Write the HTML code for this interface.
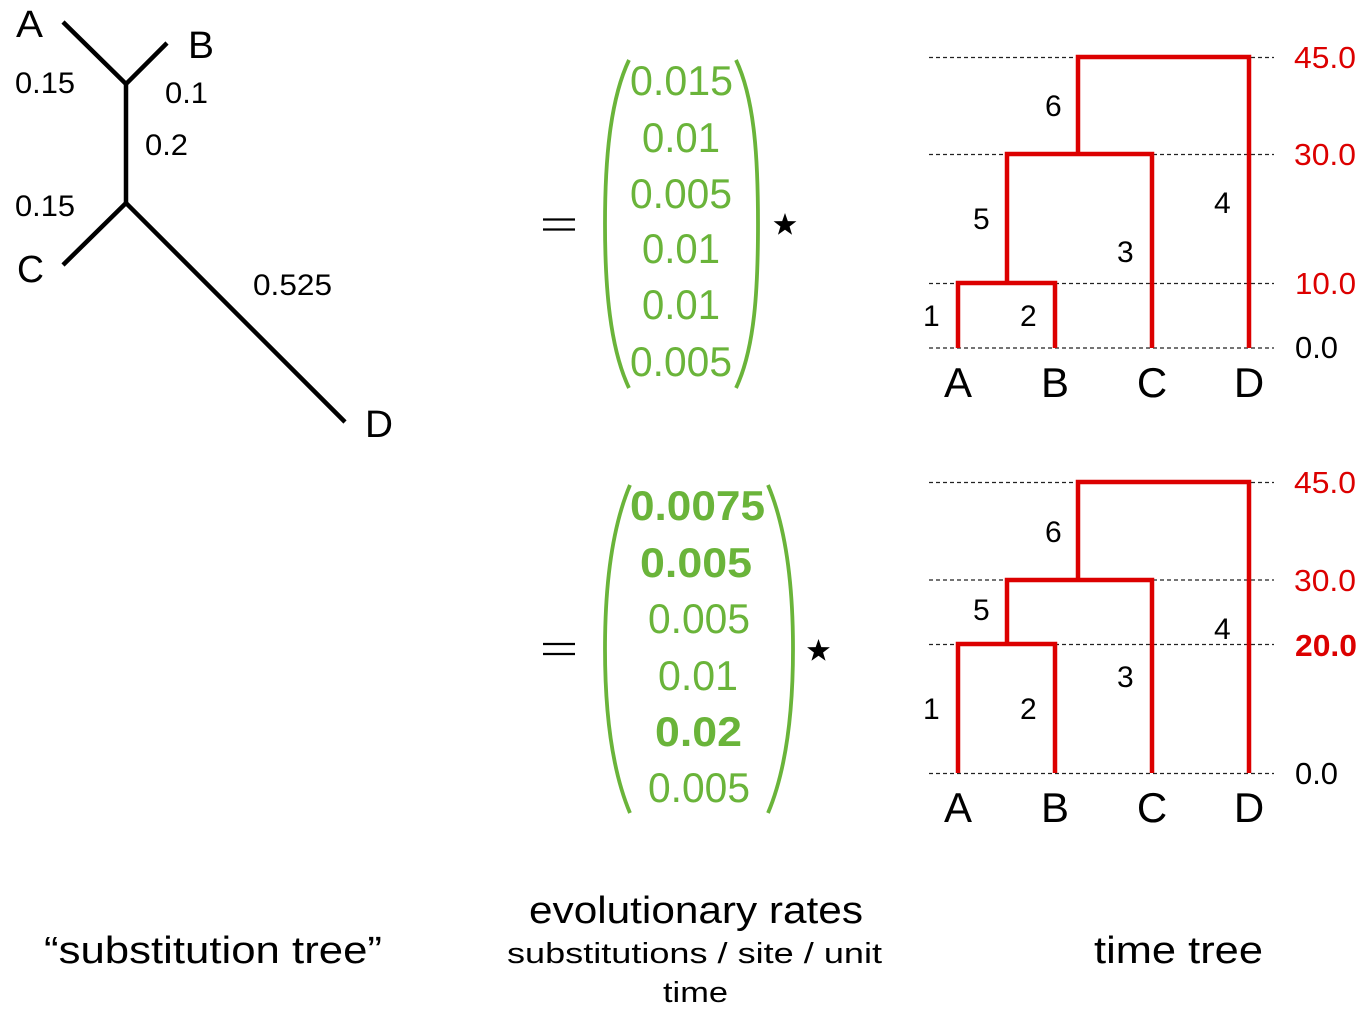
<!DOCTYPE html>
<html>
<head>
<meta charset="utf-8">
<style>
  html,body{margin:0;padding:0;background:#fff;}
  svg{display:block;}
  text{font-family:"Liberation Sans","DejaVu Sans",sans-serif;}
</style>
</head>
<body>
<svg width="1360" height="1012" viewBox="0 0 1360 1012" xmlns="http://www.w3.org/2000/svg">
  <defs>
    <polygon id="star" points="0,-12 2.82,-3.88 11.41,-3.71 4.57,1.48 7.05,9.71 0,4.8 -7.05,9.71 -4.57,1.48 -11.41,-3.71 -2.82,-3.88"/>
  </defs>
  <rect width="1360" height="1012" fill="#fff"/>

  <!-- ===== Substitution tree ===== -->
  <g stroke="#000" stroke-width="4.5" fill="none" stroke-linecap="butt" stroke-linejoin="miter">
    <path d="M63,22 L126,84 L167,43"/>
    <path d="M126,84 L126,203"/>
    <path d="M63,265 L126,203 L345,422"/>
  </g>
  <g fill="#000">
    <text x="16" y="37" font-size="38" textLength="27" lengthAdjust="spacingAndGlyphs">A</text>
    <text x="188" y="58" font-size="38" textLength="26" lengthAdjust="spacingAndGlyphs">B</text>
    <text x="17" y="282" font-size="38" textLength="27" lengthAdjust="spacingAndGlyphs">C</text>
    <text x="365" y="437" font-size="38" textLength="28" lengthAdjust="spacingAndGlyphs">D</text>
    <text x="15" y="93" font-size="30" textLength="60" lengthAdjust="spacingAndGlyphs">0.15</text>
    <text x="165" y="103" font-size="30" textLength="43" lengthAdjust="spacingAndGlyphs">0.1</text>
    <text x="145" y="155" font-size="30" textLength="43" lengthAdjust="spacingAndGlyphs">0.2</text>
    <text x="15" y="216" font-size="30" textLength="60" lengthAdjust="spacingAndGlyphs">0.15</text>
    <text x="253" y="295" font-size="30" textLength="79" lengthAdjust="spacingAndGlyphs">0.525</text>
  </g>

  <!-- ===== Top rates vector ===== -->
  <g stroke="#000" stroke-width="2.2">
    <line x1="543" y1="219.5" x2="575" y2="219.5"/>
    <line x1="543" y1="229.5" x2="575" y2="229.5"/>
  </g>
  <g stroke="#6ab43a" stroke-width="3.8" fill="none">
    <path d="M629,60 C610,100 605,160 605,224 C605,288 610,348 629,388"/>
    <path d="M736,60 C755,100 758,160 758,224 C758,288 755,348 736,388"/>
  </g>
  <g fill="#6ab43a" font-size="42">
    <text x="630" y="95" textLength="103" lengthAdjust="spacingAndGlyphs">0.015</text>
    <text x="642" y="152" textLength="78" lengthAdjust="spacingAndGlyphs">0.01</text>
    <text x="630" y="208" textLength="102" lengthAdjust="spacingAndGlyphs">0.005</text>
    <text x="642" y="263" textLength="78" lengthAdjust="spacingAndGlyphs">0.01</text>
    <text x="642" y="319" textLength="78" lengthAdjust="spacingAndGlyphs">0.01</text>
    <text x="630" y="376" textLength="102" lengthAdjust="spacingAndGlyphs">0.005</text>
  </g>
  <use href="#star" fill="#000" transform="translate(785,225)"/>

  <!-- ===== Bottom rates vector ===== -->
  <g stroke="#000" stroke-width="2.2">
    <line x1="543" y1="644" x2="575" y2="644"/>
    <line x1="543" y1="654" x2="575" y2="654"/>
  </g>
  <g stroke="#6ab43a" stroke-width="3.8" fill="none">
    <path d="M630,485 C611,530 605,590 605,649 C605,708 611,768 630,813"/>
    <path d="M768,485 C787,530 793,590 793,649 C793,708 787,768 768,813"/>
  </g>
  <g fill="#6ab43a" font-size="42">
    <text x="630" y="520" font-weight="bold" textLength="135" lengthAdjust="spacingAndGlyphs">0.0075</text>
    <text x="640" y="577" font-weight="bold" textLength="112" lengthAdjust="spacingAndGlyphs">0.005</text>
    <text x="648" y="633" textLength="102" lengthAdjust="spacingAndGlyphs">0.005</text>
    <text x="658" y="690" textLength="80" lengthAdjust="spacingAndGlyphs">0.01</text>
    <text x="655" y="746" font-weight="bold" textLength="87" lengthAdjust="spacingAndGlyphs">0.02</text>
    <text x="648" y="802" textLength="102" lengthAdjust="spacingAndGlyphs">0.005</text>
  </g>
  <use href="#star" fill="#000" transform="translate(818.5,651)"/>

  <!-- ===== Top time tree ===== -->
  <g stroke="#222" stroke-width="1.2" stroke-dasharray="4,3">
    <line x1="929" y1="57.5" x2="1274" y2="57.5"/>
    <line x1="929" y1="154.5" x2="1274" y2="154.5"/>
    <line x1="929" y1="283.5" x2="1274" y2="283.5"/>
    <line x1="929" y1="348" x2="1274" y2="348"/>
  </g>
  <g stroke="#dc0000" stroke-width="4.5" fill="none" stroke-linejoin="miter">
    <path d="M958,348 V283 H1055 V348"/>
    <path d="M1007,283 V154 H1152 V348"/>
    <path d="M1078,154 V57 H1249 V348"/>
  </g>
  <g fill="#dc0000" font-size="31">
    <text x="1294" y="68" textLength="62" lengthAdjust="spacingAndGlyphs">45.0</text>
    <text x="1294" y="165" textLength="62" lengthAdjust="spacingAndGlyphs">30.0</text>
    <text x="1295" y="294" textLength="61" lengthAdjust="spacingAndGlyphs">10.0</text>
  </g>
  <text x="1295" y="358" font-size="31" fill="#000" textLength="43" lengthAdjust="spacingAndGlyphs">0.0</text>
  <g fill="#000" font-size="30">
    <text x="1045" y="116">6</text>
    <text x="973" y="229">5</text>
    <text x="1117" y="262">3</text>
    <text x="1214" y="213">4</text>
    <text x="923" y="326">1</text>
    <text x="1020" y="326">2</text>
  </g>
  <g fill="#000" font-size="42" text-anchor="middle">
    <text x="958" y="397">A</text>
    <text x="1055" y="397">B</text>
    <text x="1152" y="397">C</text>
    <text x="1249" y="397">D</text>
  </g>

  <!-- ===== Bottom time tree ===== -->
  <g stroke="#222" stroke-width="1.2" stroke-dasharray="4,3">
    <line x1="929" y1="482.5" x2="1274" y2="482.5"/>
    <line x1="929" y1="580" x2="1274" y2="580"/>
    <line x1="929" y1="644.5" x2="1274" y2="644.5"/>
    <line x1="929" y1="773.5" x2="1274" y2="773.5"/>
  </g>
  <g stroke="#dc0000" stroke-width="4.5" fill="none" stroke-linejoin="miter">
    <path d="M958,773 V644 H1055 V773"/>
    <path d="M1007,644 V580 H1152 V773"/>
    <path d="M1078,580 V482 H1249 V773"/>
  </g>
  <g fill="#dc0000" font-size="31">
    <text x="1294" y="493" textLength="62" lengthAdjust="spacingAndGlyphs">45.0</text>
    <text x="1294" y="591" textLength="62" lengthAdjust="spacingAndGlyphs">30.0</text>
    <text x="1295" y="656" font-weight="bold" textLength="62" lengthAdjust="spacingAndGlyphs">20.0</text>
  </g>
  <text x="1295" y="784" font-size="31" fill="#000" textLength="43" lengthAdjust="spacingAndGlyphs">0.0</text>
  <g fill="#000" font-size="30">
    <text x="1045" y="542">6</text>
    <text x="973" y="620">5</text>
    <text x="1117" y="687">3</text>
    <text x="1214" y="639">4</text>
    <text x="923" y="719">1</text>
    <text x="1020" y="719">2</text>
  </g>
  <g fill="#000" font-size="42" text-anchor="middle">
    <text x="958" y="822">A</text>
    <text x="1055" y="822">B</text>
    <text x="1152" y="822">C</text>
    <text x="1249" y="822">D</text>
  </g>

  <!-- ===== Captions ===== -->
  <g fill="#000">
    <text x="44" y="963" font-size="38" textLength="338" lengthAdjust="spacingAndGlyphs">“substitution tree”</text>
    <text x="529" y="923" font-size="38" textLength="334" lengthAdjust="spacingAndGlyphs">evolutionary rates</text>
    <text x="507" y="963" font-size="29" textLength="375" lengthAdjust="spacingAndGlyphs">substitutions / site / unit</text>
    <text x="663" y="1002" font-size="29" textLength="65" lengthAdjust="spacingAndGlyphs">time</text>
    <text x="1094" y="963" font-size="38" textLength="169" lengthAdjust="spacingAndGlyphs">time tree</text>
  </g>
</svg>
</body>
</html>
